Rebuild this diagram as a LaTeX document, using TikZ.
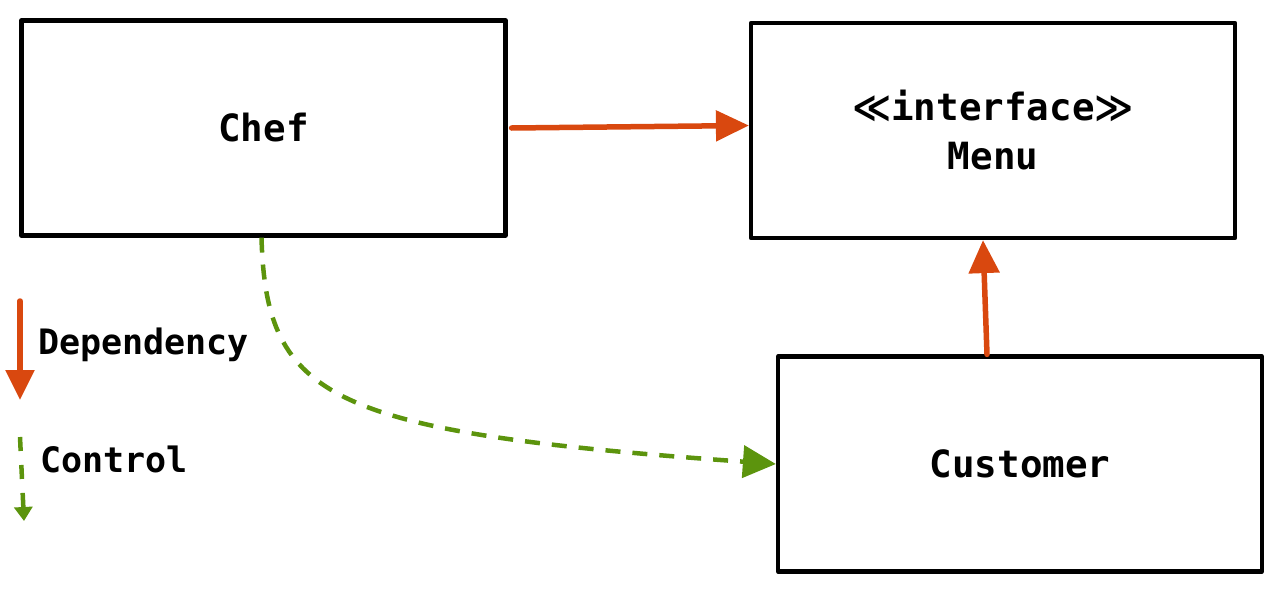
\documentclass[tikz,border=0pt]{standalone}
\usepackage{fontspec}
\setmonofont{DejaVu Sans Mono}
\newfontfamily\mathsymfont{DejaVu Sans}
\usetikzlibrary{arrows.meta}
\definecolor{deporange}{HTML}{D9480F}
\definecolor{ctlgreen}{HTML}{5C940D}
\tikzset{
  classbox/.style={draw=black, line width=4.2pt, line join=round,
    minimum width=484pt, minimum height=215pt, inner sep=0pt,
    font=\ttfamily\bfseries\fontsize{37.5}{49}\selectfont, align=center},
  legendtext/.style={anchor=west, inner sep=0pt, font=\ttfamily\bfseries\fontsize{35}{40}\selectfont},
  deparrow/.style={draw=deporange, line width=5.5pt, line cap=round,
    -{Triangle[length=33pt,width=30pt,fill=deporange]}},
  ctlarrow/.style={draw=ctlgreen, line width=4.5pt, dash pattern=on 15pt off 12pt,
    -{Triangle[length=33pt,width=32pt,fill=ctlgreen]}}
}
\begin{document}
\begin{tikzpicture}[x=1pt,y=-1pt]
  \useasboundingbox (0,0) rectangle (1280,592);

  % classes
  \node[classbox] (chef) at (263.5,128) {Chef};
  \node[classbox] (menu) at (993,130.5) {{\mathsymfont\bfseries ≪}interface{\mathsymfont\bfseries ≫}\\Menu};
  \node[classbox] (customer) at (1020,464) {Customer};

  % dependencies
  \draw[deparrow] ([xshift=4pt]chef.east) -- ([yshift=5pt]menu.west);
  \draw[deparrow] ([xshift=-33pt]customer.north) -- ([xshift=-10pt]menu.south);

  % control flow
  \draw[ctlarrow] ([xshift=-2pt]chef.south) .. controls (266,400) and (330,432) .. (customer.west);

  % legend
  \coordinate (depA) at (20,301);
  \coordinate (depB) at (20,400);
  \draw[deparrow, -{Triangle[length=30pt,width=28pt,fill=deporange]}] (depA) -- (depB);
  \node[legendtext] (deplabel) at (38,345) {Dependency};

  \coordinate (ctlA) at (20,437);
  \coordinate (ctlB) at (24,521);
  \draw[ctlarrow, dash pattern=on 14pt off 14pt,
    -{Triangle[length=14pt,width=18pt,fill=ctlgreen]}] (ctlA) -- (ctlB);
  \node[legendtext] (ctllabel) at (40,459) {Control};
\end{tikzpicture}
\end{document}
